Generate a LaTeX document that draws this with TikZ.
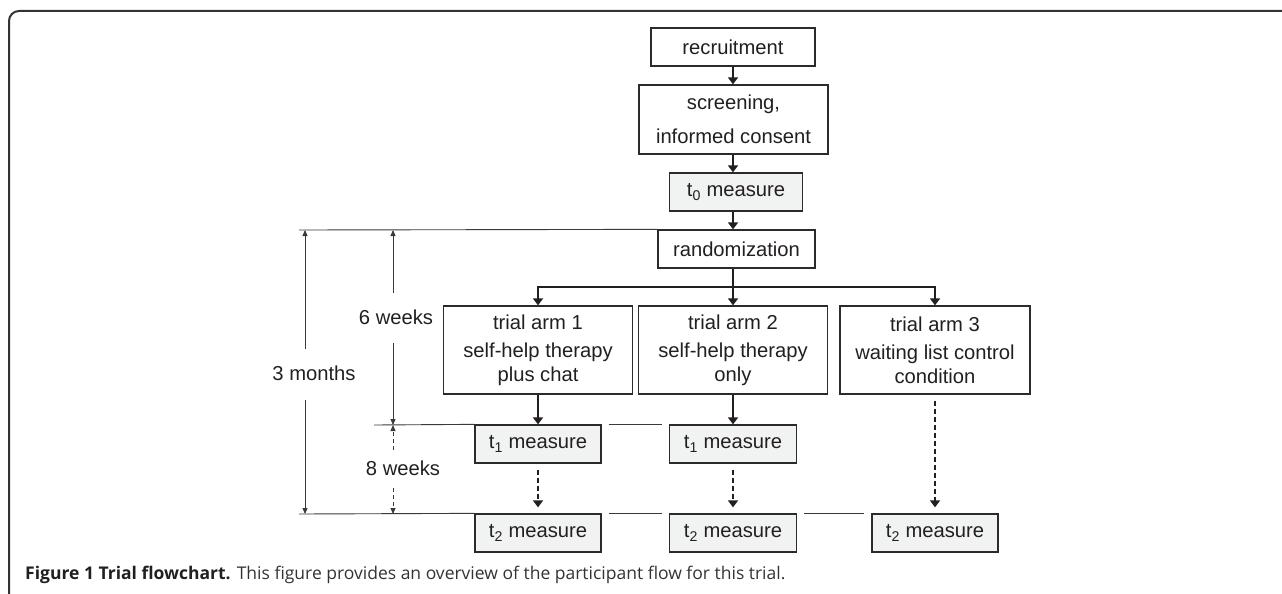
\documentclass[tikz,border=0pt]{standalone}
\usepackage{fontspec}
\setmainfont{Liberation Sans}
\newfontfamily\capfont{Open Sans}
\usetikzlibrary{arrows.meta}
\definecolor{txt}{HTML}{231F20}
\definecolor{boxc}{HTML}{2B2B2B}
\definecolor{measfill}{HTML}{F1F2F2}
\definecolor{dimc}{HTML}{3A3A3A}
\definecolor{framec}{HTML}{333333}
\begin{document}
\begin{tikzpicture}[x=1pt,y=-1pt,
  box/.style={draw=boxc, line width=1.3pt, fill=white, text=txt,
    font=\fontsize{20.2}{23.5}\selectfont, align=center, inner sep=0pt},
  meas/.style={box, fill=measfill},
  flow/.style={line width=1.8pt, draw=txt, -{Triangle[length=7pt,width=10pt]}},
  dflow/.style={flow, dash pattern=on 5pt off 3pt},
  dim/.style={line width=0.9pt, draw=dimc, -{Triangle[length=6pt,width=5pt]}},
  ddim/.style={dim, dash pattern=on 4pt off 3pt},
  refl/.style={line width=0.9pt, draw=dimc},
  lab/.style={text=txt, font=\fontsize{20.2}{23.5}\selectfont, inner sep=0pt}
]
\useasboundingbox (0,0) rectangle (1282,594);
% frame
\draw[line width=2pt, draw=framec, rounded corners=10pt] (1284,11) -- (9,11) -- (9,596);

% main boxes
\node[box, minimum width=164pt, minimum height=38pt] (rec) at (733,47) {recruitment};
\node[box, minimum width=189pt, minimum height=69pt] (scr) at (733.5,119.5) {screening,\\[10pt]informed consent};
\node[meas, minimum width=133pt, minimum height=38pt] (t0) at (736,192) {t\textsubscript{0} measure};
\node[box, minimum width=157pt, minimum height=38pt] (rnd) at (736.5,249) {randomization};
\coordinate (br) at (733,287);

\node[box, minimum width=189pt, minimum height=88pt] (arm1) at (538,350) {trial arm 1\\[5pt]self-help therapy\\plus chat};
\node[box, minimum width=189pt, minimum height=88pt] (arm2) at (733,350) {trial arm 2\\[5pt]self-help therapy\\only};
\node[box, minimum width=190pt, minimum height=88pt] (arm3) at (935,350) {trial arm 3\\[5pt]waiting list control\\condition};

\node[meas, minimum width=126pt, minimum height=38pt] (t1a) at (538,444) {t\textsubscript{1} measure};
\node[meas, minimum width=127pt, minimum height=38pt] (t1b) at (733,444) {t\textsubscript{1} measure};
\node[meas, minimum width=126pt, minimum height=38pt] (t2a) at (538,533) {t\textsubscript{2} measure};
\node[meas, minimum width=127pt, minimum height=38pt] (t2b) at (733,533) {t\textsubscript{2} measure};
\node[meas, minimum width=126pt, minimum height=38pt] (t2c) at (935,533) {t\textsubscript{2} measure};

% flow arrows
\draw[flow] (rec.south -| rec) -- (scr.north -| rec);
\draw[flow] (scr.south -| rec) -- (t0.north -| rec);
\draw[flow] (t0.south -| rec) -- (rnd.north -| rec);
\draw[line width=1.8pt, draw=txt, line cap=rect] (br -| arm1) -- (br -| arm3);
\draw[flow] (rnd.south -| br) -- (arm2.north -| br);
\draw[flow] (br -| arm1) -- (arm1.north);
\draw[flow] (br -| arm3) -- (arm3.north);
\draw[flow] (arm1) -- (t1a);
\draw[flow] (arm2) -- (t1b);
\draw[dflow, shorten <=6pt, shorten >=6pt] (t1a) -- (t2a);
\draw[dflow, shorten <=6pt, shorten >=6pt] (t1b) -- (t2b);
\draw[dflow, shorten <=6pt, shorten >=6pt] (arm3) -- (t2c);

% reference lines
\coordinate (L0) at (299,230);
\coordinate (L1) at (374,425);
\coordinate (L2) at (299,514);
\draw[refl] (L0) -- (rnd.north west);
\draw[refl] (L1) -- (t1a.north west);
\draw[refl] ([xshift=7pt]t1a.north east) -- ([xshift=-7pt]t1b.north west);
\draw[refl] (L2) -- (t2a.north west);
\draw[refl] ([xshift=7pt]t2a.north east) -- ([xshift=-7pt]t2b.north west);
\draw[refl] ([xshift=7pt]t2b.north east) -- ([xshift=-7pt]t2c.north west);

% dimension labels and arrows
\node[lab] (m3) at (314,373) {3 months};
\node[lab] (w6) at (396,317) {6 weeks};
\node[lab] (w8) at (403,468) {8 weeks};
\coordinate (d3a) at (305,349);
\coordinate (d3b) at (305,400);
\coordinate (d6a) at (393,293);
\coordinate (d6b) at (393,343);
\coordinate (d8a) at (393,450);
\coordinate (d8b) at (393,488);
\draw[dim] (d3a) -- (d3a |- L0);
\draw[dim] (d3b) -- (d3b |- L2);
\draw[dim] (d6a) -- (d6a |- L0);
\draw[dim] (d6b) -- (d6b |- L1);
\draw[ddim] (d8a) -- (d8a |- L1);
\draw[ddim] (d8b) -- (d8b |- L2);

% caption
\node[anchor=base west, inner sep=0pt, text=txt, font=\capfont\fontsize{17.5}{21}\selectfont] (cap) at (25,579)
  {\textbf{Figure 1 Trial flowchart.} \color{black!80}This figure provides an overview of the participant flow for this trial.};
\end{tikzpicture}
\end{document}
